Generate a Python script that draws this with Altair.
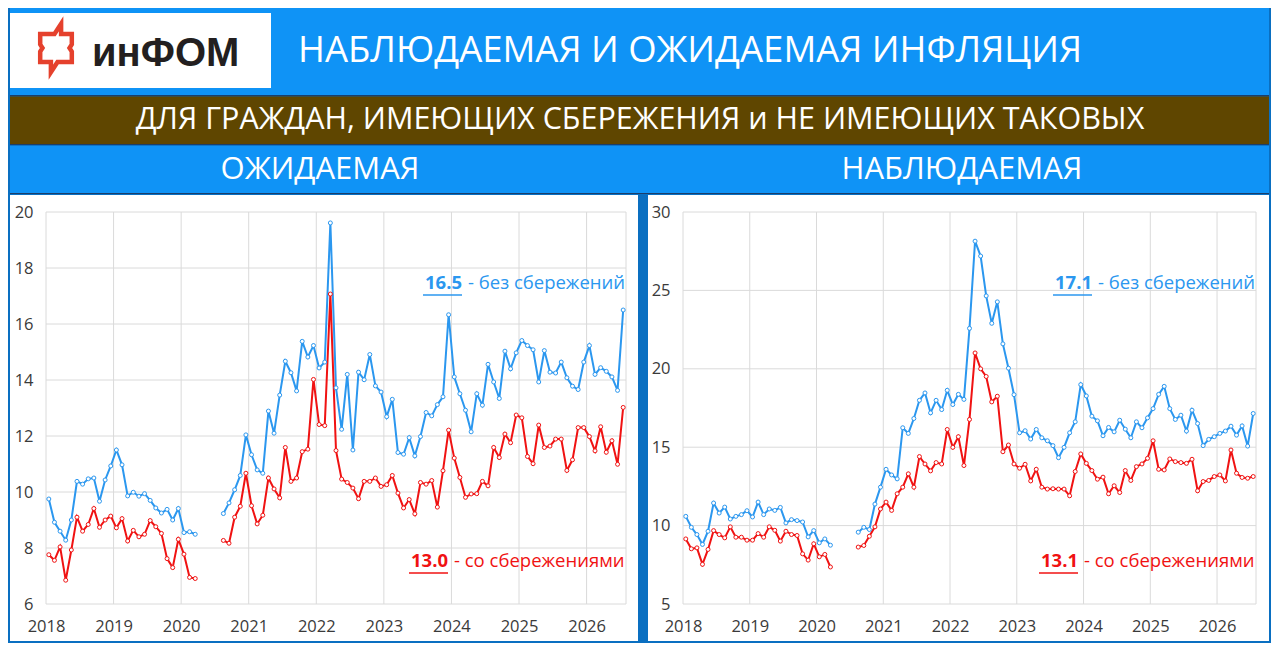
import altair as alt
import pandas as pd

# ---------------- data ----------------
YEARS = [2018, 2019, 2020, 2021, 2022, 2023, 2024, 2025, 2026]
N_MONTHS = 103          # Jan 2018 ... Jul 2026
SEG1_START = 0          # first block starts Jan 2018
SEG2_START = 31         # second block starts Aug 2020

# Expected inflation (left panel)
exp_none_1 = [9.75, 8.92, 8.60, 8.28, 9.00, 10.38, 10.28, 10.47, 10.50, 9.67, 10.43, 10.93, 11.50, 10.97,
              9.86, 9.99, 9.85, 9.94, 9.70, 9.43, 9.25, 9.38, 9.00, 9.41, 8.55, 8.58, 8.49]
exp_sav_1 = [7.76, 7.56, 8.04, 6.85, 7.93, 9.10, 8.60, 8.84, 9.41, 8.74, 9.00, 9.14, 8.72, 9.05,
             8.25, 8.63, 8.40, 8.49, 8.98, 8.76, 8.52, 7.62, 7.30, 8.31, 7.78, 6.95, 6.91]
exp_none_2 = [9.23, 9.61, 10.08, 10.59, 12.04, 11.33, 10.79, 10.67, 12.89, 12.10, 13.46, 14.67, 14.26, 13.61,
              15.38, 14.82, 15.23, 14.43, 14.64, 19.61, 13.72, 12.24, 14.20, 11.50, 14.28, 14.01, 14.91, 13.79,
              13.57, 12.69, 13.31, 11.41, 11.35, 11.94, 11.29, 11.98, 12.84, 12.72, 13.12, 13.40, 16.33, 14.11,
              13.51, 12.92, 12.15, 13.51, 13.10, 14.56, 13.93, 13.34, 15.03, 14.40, 14.97, 15.41, 15.23, 15.08,
              13.93, 15.05, 14.28, 14.25, 14.64, 14.08, 13.78, 13.66, 14.64, 15.23, 14.20, 14.44, 14.31, 14.11,
              13.63, 16.50]
exp_sav_2 = [8.27, 8.17, 9.10, 9.49, 10.67, 9.51, 8.86, 9.17, 10.50, 10.11, 9.79, 11.59, 10.38, 10.50,
             11.44, 11.53, 14.02, 12.41, 12.37, 17.07, 11.48, 10.46, 10.34, 10.14, 9.76, 10.38, 10.38, 10.50,
             10.20, 10.26, 10.59, 9.96, 9.43, 9.73, 9.22, 10.34, 10.28, 10.41, 9.46, 10.76, 12.21, 11.21,
             10.52, 9.81, 9.93, 9.94, 10.38, 10.22, 11.59, 11.23, 12.07, 11.76, 12.75, 12.65, 11.27, 11.01,
             12.39, 11.59, 11.64, 11.89, 11.89, 10.77, 11.15, 12.30, 12.30, 11.98, 11.47, 12.33, 11.42, 11.83,
             10.99, 13.02]

# Observed inflation (right panel)
obs_none_1 = [10.59, 9.89, 9.43, 8.80, 9.64, 11.44, 10.80, 11.18, 10.42, 10.59, 10.70, 10.95, 10.55, 11.50,
              10.70, 11.06, 10.97, 11.16, 10.17, 10.38, 10.32, 10.23, 9.28, 9.68, 8.90, 9.15, 8.75]
obs_sav_1 = [9.15, 8.52, 8.58, 7.53, 8.48, 9.68, 9.43, 9.22, 9.92, 9.26, 9.26, 9.07, 9.07, 9.49,
             9.26, 9.92, 9.70, 9.01, 9.64, 9.43, 9.37, 8.20, 7.80, 8.84, 8.01, 8.16, 7.36]
obs_none_2 = [9.58, 9.89, 9.75, 11.37, 12.45, 13.59, 13.23, 12.98, 16.24, 15.88, 16.83, 17.99, 18.46, 17.19,
              17.99, 17.40, 18.63, 17.72, 18.37, 18.05, 22.58, 28.14, 27.19, 24.65, 22.90, 24.27, 21.59, 20.04,
              18.35, 15.92, 16.05, 15.52, 16.13, 15.60, 15.41, 15.10, 14.33, 14.99, 15.92, 16.62, 18.99, 18.27,
              16.98, 16.68, 15.73, 16.26, 15.98, 16.72, 16.15, 15.60, 16.62, 16.24, 16.87, 17.46, 18.37, 18.88,
              17.46, 16.77, 17.04, 16.03, 17.36, 16.51, 15.10, 15.50, 15.67, 15.88, 16.03, 16.34, 15.77, 16.36,
              15.07, 17.15]
obs_sav_2 = [8.63, 8.73, 9.32, 9.92, 11.06, 11.50, 10.97, 12.03, 12.45, 13.30, 12.45, 14.40, 13.93, 13.49,
             14.02, 13.93, 16.13, 14.99, 15.67, 13.83, 16.77, 21.01, 20.00, 19.51, 17.89, 18.25, 14.71, 15.14,
             13.93, 13.66, 13.91, 12.85, 13.59, 12.45, 12.33, 12.35, 12.33, 12.33, 11.90, 13.45, 14.57, 13.97,
             13.51, 12.96, 13.09, 12.03, 12.54, 12.11, 13.51, 12.88, 13.76, 13.93, 14.29, 15.41, 13.59, 13.55,
             14.25, 14.08, 14.02, 13.97, 14.23, 12.22, 12.81, 12.88, 13.13, 13.23, 12.85, 14.82, 13.34, 13.07,
             13.02, 13.13]

exp_yticks = [6, 8, 10, 12, 14, 16, 18, 20]
obs_yticks = [5, 10, 15, 20, 25, 30]

TITLE = "НАБЛЮДАЕМАЯ И ОЖИДАЕМАЯ ИНФЛЯЦИЯ"
SUBTITLE = "ДЛЯ ГРАЖДАН, ИМЕЮЩИХ СБЕРЕЖЕНИЯ и НЕ ИМЕЮЩИХ ТАКОВЫХ"
LEFT_TITLE = "ОЖИДАЕМАЯ"
RIGHT_TITLE = "НАБЛЮДАЕМАЯ"
LOGO_TEXT = "инФОМ"
LBL_NONE = "- без сбережений"
LBL_SAV = "- со сбережениями"
exp_last = ["16.5", "13.0"]
obs_last = ["17.1", "13.1"]

# ---------------- style ----------------
FONT = "Open Sans"
LIGHT = "#0f93f6"
DARK = "#0a6fc1"
BROWN = "#5f4600"
NAVY = "#1b3e6a"
BLUE = "#2b97ef"
RED = "#f01212"
GRID = "#dadada"
LOGO_RED = "#e5412d"
AXIS_TXT = "#3a3a3a"

ICON_PATH = ("M -0.62 -0.55 L -0.06 -0.55 L 0.2 -0.95 L 0.2 -0.55 L 0.62 -0.55 "
             "L 0.62 -0.14 L 0.53 0 L 0.62 0.14 L 0.62 0.55 L 0.06 0.55 L -0.2 0.95 "
             "L -0.2 0.55 L -0.62 0.55 L -0.62 0.14 L -0.53 0 L -0.62 -0.14 Z")

one = pd.DataFrame({"k": [0]})


def build_df(none1, sav1, none2, sav2):
    rows = []
    for series, seg, start, vals in [("none", 1, SEG1_START, none1), ("sav", 1, SEG1_START, sav1),
                                     ("none", 2, SEG2_START, none2), ("sav", 2, SEG2_START, sav2)]:
        for k, v in enumerate(vals):
            m = start + k
            rows.append({"t": 2018 + (m + 0.5) / 12, "v": v, "s": series, "seg": f"{series}{seg}"})
    return pd.DataFrame(rows)


def panel(df, yticks, last, W, H, padL, padR, padT, padB, xb_none, xb_sav):
    x_end = 2018 + N_MONTHS / 12
    xscale = alt.Scale(domain=[2018, x_end], nice=False, zero=False)
    yscale = alt.Scale(domain=[yticks[0], yticks[-1]], nice=False, zero=False)
    xaxis = alt.Axis(values=YEARS, format="d", grid=False, domain=False, ticks=False,
                     labelFont=FONT, labelFontSize=16.5, labelColor=AXIS_TXT, labelPadding=14,
                     labelFlush=False, title=None, zindex=1)
    yaxis = alt.Axis(values=yticks, format="d", grid=False, domain=False, ticks=False,
                     labelFont=FONT, labelFontSize=16.5, labelColor=AXIS_TXT, labelPadding=13,
                     title=None, zindex=1)

    bg = alt.Chart(one).mark_rect(color="white").encode(
        x=alt.value(-padL), x2=alt.value(W + padR), y=alt.value(-padT), y2=alt.value(H + padB))
    gy = alt.Chart(pd.DataFrame({"v": yticks})).mark_rule(color=GRID, strokeWidth=1).encode(
        y=alt.Y("v:Q", scale=yscale, axis=yaxis))
    gx = alt.Chart(pd.DataFrame({"t": YEARS + [x_end]})).mark_rule(color=GRID, strokeWidth=1).encode(
        x=alt.X("t:Q", scale=xscale, axis=xaxis))
    lines = alt.Chart(df).mark_line(
        strokeWidth=2,
        point=alt.OverlayMarkDef(filled=False, fill="white", size=16, strokeWidth=1)
    ).encode(
        x=alt.X("t:Q", scale=xscale, axis=xaxis),
        y=alt.Y("v:Q", scale=yscale, axis=yaxis),
        color=alt.Color("s:N", scale=alt.Scale(domain=["none", "sav"], range=[BLUE, RED]), legend=None),
        detail="seg:N",
    )

    layers = [bg, gy, gx, lines]
    for num, rest, color, yy, xb in [(last[0], LBL_NONE, BLUE, 71, xb_none),
                                      (last[1], LBL_SAV, RED, 349, xb_sav)]:
        layers.append(alt.Chart(one).mark_text(
            text=num, align="right", baseline="middle", font=FONT, fontSize=18.5,
            fontWeight="bold", color=color).encode(x=alt.value(xb), y=alt.value(yy)))
        layers.append(alt.Chart(one).mark_text(
            text=rest, align="left", baseline="middle", font=FONT, fontSize=18.5,
            color=color, dx=6).encode(x=alt.value(xb), y=alt.value(yy)))
        layers.append(alt.Chart(one).mark_rule(color=color, strokeWidth=1.5).encode(
            x=alt.value(xb - 39), x2=alt.value(xb), y=alt.value(yy + 12)))
    return alt.layer(*layers).properties(width=W, height=H)


LEFT_PAD = 36
left = panel(build_df(exp_none_1, exp_sav_1, exp_none_2, exp_sav_2), exp_yticks, exp_last,
             W=580, H=392, padL=LEFT_PAD, padR=12, padT=17, padB=37, xb_none=416, xb_sav=402)
right = panel(build_df(obs_none_1, obs_sav_1, obs_none_2, obs_sav_2), obs_yticks, obs_last,
              W=573, H=392, padL=35, padR=13, padT=17, padB=37, xb_none=409, xb_sav=395)

# ---------------- header ----------------
HW = 1259
HH = 186
OX = -LEFT_PAD   # header origin is aligned with the left panel's plot origin


def band(x1, x2, y1, y2, color):
    return alt.Chart(one).mark_rect(color=color).encode(
        x=alt.value(x1 + OX), x2=alt.value(x2 + OX), y=alt.value(y1), y2=alt.value(y2))


def label(text, x, y, size, color="white", weight="normal", font=FONT, align="center", baseline="middle"):
    return alt.Chart(one).mark_text(text=text, font=font, fontSize=size, fontWeight=weight,
                                    color=color, align=align, baseline=baseline).encode(
        x=alt.value(x + OX), y=alt.value(y))


icon = alt.Chart(one).mark_point(shape=ICON_PATH, size=2600, filled=False, stroke=LOGO_RED,
                                 strokeWidth=4.5, opacity=1).encode(x=alt.value(46 + OX), y=alt.value(40))

header = alt.layer(
    band(0, HW, 0, 87, LIGHT),
    band(0, HW, 87, 88.5, NAVY),
    band(0, HW, 88.5, 136, BROWN),
    band(0, HW, 136, 137.5, NAVY),
    band(0, HW, 137.5, 185, LIGHT),
    band(0, HW, 185, 186, NAVY),
    band(0, 261, 5, 80, "white"),
    icon,
    label(LOGO_TEXT, 82, 58, 40, color="#231f20", weight="bold", font="Liberation Sans",
          align="left", baseline="alphabetic"),
    label(TITLE, 680, 43, 36.5),
    label(SUBTITLE, 630, 112, 30.5),
    label(LEFT_TITLE, 310, 162, 31),
    label(RIGHT_TITLE, 952, 162, 31),
).properties(width=HW + OX, height=HH)

chart = alt.vconcat(
    header,
    alt.hconcat(left, right, spacing=10),
    spacing=1,
).properties(
    padding={"left": 2, "right": 2, "top": 0, "bottom": 2},
    background=DARK,
).configure_view(strokeWidth=0)

chart.save("out.html", embed_options={"renderer": "svg", "actions": False})
